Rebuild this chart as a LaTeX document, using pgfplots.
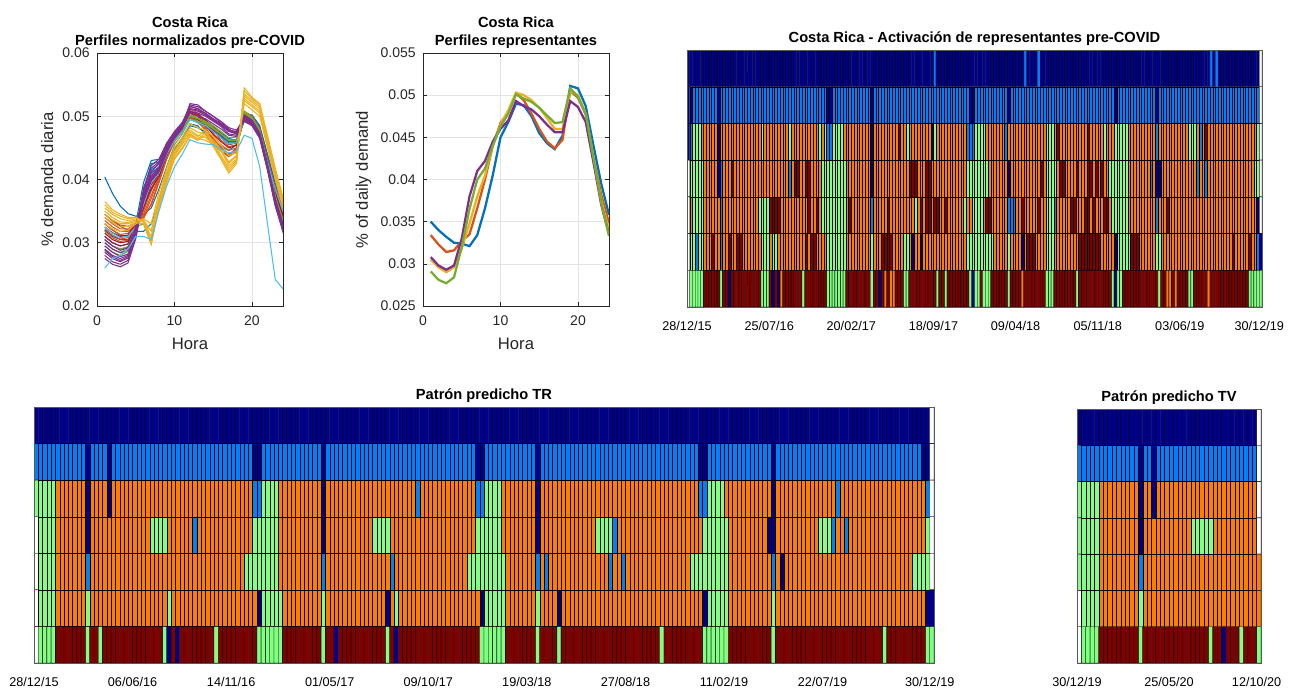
\documentclass[border=0pt]{standalone}
\usepackage{pgfplots}
\usepackage{pgfplotstable}
\pgfplotsset{compat=1.18}
\usepackage{fontspec}
\setmainfont{Liberation Sans}
\definecolor{mB}{rgb}{0,0.447,0.741}
\definecolor{mO}{rgb}{0.85,0.325,0.098}
\definecolor{mY}{rgb}{0.929,0.694,0.125}
\definecolor{mP}{rgb}{0.494,0.184,0.556}
\definecolor{mG}{rgb}{0.466,0.674,0.188}
\definecolor{mC}{rgb}{0.301,0.745,0.933}
\definecolor{mR}{rgb}{0.635,0.078,0.184}
\definecolor{axgray}{rgb}{0.15,0.15,0.15}
\pgfplotsset{colormap={wk}{rgb255=(255,255,255) rgb255=(0,0,143) rgb255=(0,128,255) rgb255=(128,255,128) rgb255=(255,128,0) rgb255=(128,0,0)}}
\pgfplotsset{
 lineax/.style={scale only axis, width=139.5pt, height=189.75pt, xmin=0, xmax=24,
  xtick={0,10,20}, xticklabels={0,10,20}, grid=major, grid style={gray!22, line width=0.4pt},
  scaled y ticks=false, scaled x ticks=false,
  axis line style={axgray, line width=0.4pt}, tick style={axgray, line width=0.4pt}, major tick length=3pt,
  tick label style={font=\fontsize{10.5}{12}\selectfont, text=axgray},
  xticklabel style={yshift=-4pt}, yticklabel style={xshift=-2pt},
  label style={font=\fontsize{12.5}{14}\selectfont, text=axgray},
  xlabel style={yshift=-2pt},
  title style={font=\bfseries\fontsize{11}{13}\selectfont, align=center, yshift=-6pt},
  xlabel=Hora},
 gridax/.style={scale only axis, enlargelimits=false, ymin=0, ymax=7, y dir=reverse, ytick=\empty,
  major tick length=0pt, axis line style={gray!70!black, line width=0.4pt},
  tick label style={font=\fontsize{9.5}{11}\selectfont, text=black}, xticklabel style={yshift=-7.5pt},
  title style={font=\bfseries\fontsize{11}{13}\selectfont, yshift=-6.5pt},
  colormap name=wk, point meta min=0, point meta max=5, axis on top},
 thinl/.style={mark=none, line width=0.8pt},
 thickl/.style={mark=none, line width=1.7pt}
}
% Activation grid: 7 rows x 210 weeks, row-major. 0 white,1 navy,2 blue,3 green,4 orange,5 dark red
\pgfplotstableread[row sep=\\]{c\\
1\\1\\1\\1\\1\\1\\1\\1\\1\\1\\
1\\1\\1\\1\\1\\1\\1\\1\\1\\1\\
1\\1\\1\\1\\1\\1\\1\\1\\1\\1\\
1\\1\\1\\1\\1\\1\\1\\1\\1\\1\\
1\\1\\1\\1\\1\\1\\1\\1\\1\\1\\
1\\1\\1\\1\\1\\1\\1\\1\\1\\1\\
1\\1\\1\\1\\1\\1\\1\\1\\1\\1\\
1\\1\\1\\1\\1\\1\\1\\1\\1\\1\\
1\\1\\1\\1\\1\\1\\1\\1\\1\\1\\
2\\1\\1\\1\\1\\1\\1\\1\\1\\1\\
1\\1\\1\\1\\1\\1\\1\\1\\1\\1\\
1\\1\\1\\1\\1\\1\\1\\1\\1\\1\\
1\\1\\1\\2\\1\\1\\1\\1\\2\\1\\
1\\1\\1\\1\\1\\1\\1\\1\\1\\1\\
1\\1\\1\\1\\1\\1\\1\\1\\1\\1\\
1\\1\\1\\1\\1\\1\\1\\1\\1\\1\\
1\\1\\1\\1\\1\\1\\1\\1\\1\\1\\
1\\1\\1\\1\\1\\1\\1\\1\\1\\1\\
1\\1\\1\\1\\1\\1\\1\\1\\1\\1\\
1\\2\\1\\2\\1\\1\\1\\1\\1\\1\\
1\\1\\1\\1\\1\\1\\1\\1\\1\\0\\
1\\1\\2\\2\\2\\2\\2\\2\\2\\2\\
2\\1\\2\\2\\2\\2\\2\\2\\2\\2\\
2\\2\\2\\2\\2\\2\\2\\2\\2\\2\\
2\\2\\2\\2\\2\\2\\2\\2\\2\\2\\
2\\2\\2\\2\\2\\2\\2\\2\\2\\2\\
2\\1\\1\\2\\2\\2\\2\\2\\2\\2\\
2\\2\\2\\2\\2\\2\\2\\1\\2\\2\\
2\\2\\2\\2\\2\\2\\2\\2\\2\\2\\
2\\2\\2\\2\\2\\2\\2\\2\\2\\2\\
2\\2\\2\\2\\2\\2\\2\\2\\2\\2\\
2\\2\\2\\1\\1\\2\\2\\2\\2\\2\\
2\\2\\2\\2\\2\\2\\2\\1\\2\\2\\
2\\2\\2\\2\\2\\2\\2\\2\\2\\2\\
2\\2\\2\\2\\2\\2\\2\\2\\2\\2\\
2\\2\\2\\2\\2\\2\\2\\2\\2\\2\\
2\\2\\2\\2\\2\\2\\1\\2\\2\\2\\
2\\2\\2\\2\\2\\2\\2\\2\\2\\2\\
2\\1\\2\\2\\2\\2\\2\\2\\2\\2\\
2\\2\\2\\2\\2\\2\\2\\2\\2\\2\\
2\\2\\2\\2\\2\\2\\2\\2\\2\\2\\
2\\2\\2\\2\\2\\2\\2\\2\\2\\0\\
1\\2\\3\\3\\3\\4\\4\\4\\4\\4\\
4\\1\\4\\4\\4\\4\\4\\4\\4\\4\\
4\\4\\4\\4\\4\\4\\4\\3\\4\\4\\
4\\4\\4\\4\\4\\4\\4\\3\\4\\4\\
4\\4\\4\\4\\4\\4\\4\\4\\3\\4\\
3\\2\\2\\3\\3\\3\\3\\4\\4\\4\\
4\\4\\4\\4\\4\\4\\4\\1\\4\\4\\
4\\4\\4\\4\\4\\4\\4\\5\\4\\4\\
3\\4\\4\\4\\4\\4\\4\\4\\4\\1\\
3\\4\\4\\4\\4\\4\\4\\4\\4\\4\\
4\\4\\2\\2\\2\\3\\3\\3\\3\\4\\
4\\4\\4\\4\\4\\4\\2\\4\\4\\4\\
4\\4\\4\\4\\4\\4\\4\\4\\4\\4\\
4\\3\\3\\3\\4\\5\\4\\4\\4\\4\\
4\\4\\4\\4\\4\\4\\5\\4\\4\\4\\
4\\4\\3\\4\\4\\4\\3\\3\\3\\3\\
3\\4\\4\\4\\4\\4\\4\\4\\4\\4\\
4\\2\\4\\4\\4\\4\\4\\4\\4\\4\\
4\\4\\4\\3\\3\\3\\4\\2\\4\\5\\
4\\4\\4\\4\\4\\4\\4\\4\\4\\4\\
4\\4\\4\\4\\4\\4\\4\\4\\3\\0\\
0\\3\\3\\3\\3\\3\\4\\4\\4\\4\\
4\\1\\2\\4\\4\\4\\5\\4\\4\\4\\
4\\4\\4\\4\\4\\4\\4\\4\\4\\4\\
4\\4\\4\\4\\4\\4\\4\\2\\4\\5\\
5\\4\\4\\5\\5\\4\\4\\4\\4\\3\\
3\\3\\3\\3\\3\\3\\3\\3\\4\\4\\
4\\4\\4\\4\\4\\4\\4\\1\\4\\4\\
4\\4\\4\\4\\4\\4\\4\\4\\4\\4\\
4\\5\\5\\5\\4\\4\\4\\5\\5\\4\\
4\\4\\4\\4\\4\\4\\4\\4\\4\\4\\
4\\4\\3\\3\\3\\3\\3\\3\\3\\3\\
4\\4\\4\\4\\4\\4\\4\\1\\4\\4\\
4\\4\\4\\4\\4\\4\\4\\4\\4\\5\\
4\\3\\3\\3\\3\\4\\5\\5\\4\\4\\
4\\4\\5\\4\\4\\4\\5\\5\\4\\5\\
4\\5\\4\\4\\3\\3\\3\\3\\3\\3\\
3\\4\\4\\4\\4\\4\\4\\4\\4\\2\\
4\\1\\1\\4\\4\\4\\4\\4\\4\\4\\
4\\4\\4\\4\\4\\4\\2\\4\\4\\2\\
4\\4\\4\\4\\4\\4\\4\\4\\4\\4\\
4\\4\\4\\4\\4\\4\\4\\3\\3\\0\\
0\\4\\3\\3\\3\\3\\4\\4\\4\\4\\
4\\4\\2\\4\\4\\4\\4\\4\\4\\4\\
4\\4\\4\\4\\4\\4\\3\\3\\3\\3\\
5\\5\\5\\5\\4\\4\\4\\4\\4\\4\\
4\\4\\4\\4\\5\\4\\4\\5\\4\\3\\
3\\3\\3\\3\\3\\3\\3\\3\\4\\5\\
4\\4\\4\\4\\4\\4\\4\\2\\4\\4\\
4\\4\\4\\5\\4\\4\\4\\4\\4\\4\\
4\\4\\4\\3\\4\\5\\4\\5\\5\\4\\
5\\5\\4\\4\\5\\4\\4\\4\\4\\4\\
4\\3\\4\\4\\3\\3\\3\\3\\4\\5\\
5\\4\\4\\4\\4\\4\\4\\2\\2\\2\\
4\\4\\5\\4\\4\\4\\4\\4\\5\\4\\
4\\3\\3\\3\\2\\4\\4\\4\\4\\4\\
5\\5\\4\\4\\4\\5\\5\\4\\5\\4\\
4\\4\\5\\5\\4\\3\\3\\3\\3\\3\\
3\\4\\4\\4\\4\\4\\4\\4\\4\\4\\
4\\2\\4\\4\\4\\5\\4\\4\\4\\4\\
4\\4\\4\\4\\4\\4\\4\\4\\4\\4\\
4\\4\\4\\4\\4\\4\\4\\4\\4\\4\\
4\\4\\4\\4\\4\\4\\4\\4\\1\\0\\
0\\3\\3\\2\\3\\3\\4\\4\\4\\5\\
4\\4\\2\\4\\4\\5\\4\\4\\5\\5\\
4\\4\\4\\4\\4\\4\\4\\3\\3\\3\\
4\\3\\3\\4\\4\\4\\4\\4\\4\\4\\
4\\4\\4\\5\\4\\5\\5\\4\\4\\4\\
4\\3\\3\\3\\3\\3\\3\\3\\4\\4\\
4\\4\\4\\4\\4\\4\\4\\3\\4\\4\\
4\\5\\5\\5\\5\\4\\4\\4\\4\\3\\
3\\4\\1\\4\\4\\1\\4\\4\\4\\4\\
4\\4\\4\\4\\4\\4\\4\\4\\4\\4\\
4\\4\\3\\3\\3\\3\\3\\3\\3\\3\\
3\\3\\4\\4\\4\\4\\4\\3\\4\\4\\
4\\4\\1\\4\\5\\5\\5\\4\\4\\4\\
4\\3\\3\\3\\4\\4\\4\\4\\4\\4\\
4\\4\\4\\5\\5\\5\\5\\5\\5\\5\\
5\\4\\4\\4\\4\\4\\1\\3\\3\\3\\
3\\3\\5\\5\\5\\4\\4\\4\\4\\4\\
4\\3\\3\\4\\4\\4\\4\\4\\4\\4\\
4\\4\\4\\4\\4\\4\\4\\4\\4\\4\\
4\\4\\4\\4\\4\\4\\4\\4\\4\\5\\
4\\4\\4\\4\\4\\5\\4\\4\\2\\1\\
0\\3\\3\\3\\3\\3\\5\\5\\5\\5\\
5\\5\\3\\5\\5\\1\\5\\5\\5\\5\\
5\\5\\5\\5\\5\\5\\5\\3\\3\\3\\
5\\1\\5\\1\\4\\5\\5\\5\\5\\5\\
5\\5\\3\\5\\5\\5\\5\\5\\5\\5\\
5\\3\\3\\3\\3\\3\\3\\3\\5\\5\\
5\\5\\5\\5\\5\\5\\5\\3\\5\\5\\
1\\5\\4\\5\\4\\4\\5\\5\\5\\3\\
3\\5\\5\\5\\5\\5\\5\\5\\5\\5\\
5\\3\\5\\5\\3\\5\\5\\5\\5\\5\\
5\\5\\5\\3\\1\\3\\3\\5\\3\\3\\
3\\5\\5\\5\\5\\5\\5\\3\\5\\5\\
5\\5\\4\\5\\5\\5\\5\\5\\5\\5\\
5\\3\\3\\3\\5\\5\\5\\5\\5\\5\\
5\\5\\3\\5\\5\\5\\5\\5\\5\\5\\
5\\5\\5\\5\\5\\3\\1\\3\\3\\5\\
5\\5\\5\\5\\5\\5\\5\\5\\5\\5\\
5\\5\\3\\5\\5\\4\\4\\5\\4\\5\\
5\\5\\5\\3\\3\\5\\5\\5\\5\\5\\
4\\5\\5\\5\\5\\5\\5\\5\\5\\5\\
5\\5\\5\\5\\5\\3\\3\\3\\3\\3\\
}\gridA
% Predicted TR grid: 7 rows x 210 weeks
\pgfplotstableread[row sep=\\]{c\\
1\\1\\1\\1\\1\\1\\1\\1\\1\\1\\
1\\1\\1\\1\\1\\1\\1\\1\\1\\1\\
1\\1\\1\\1\\1\\1\\1\\1\\1\\1\\
1\\1\\1\\1\\1\\1\\1\\1\\1\\1\\
1\\1\\1\\1\\1\\1\\1\\1\\1\\1\\
1\\1\\1\\1\\1\\1\\1\\1\\1\\1\\
1\\1\\1\\1\\1\\1\\1\\1\\1\\1\\
1\\1\\1\\1\\1\\1\\1\\1\\1\\1\\
1\\1\\1\\1\\1\\1\\1\\1\\1\\1\\
1\\1\\1\\1\\1\\1\\1\\1\\1\\1\\
1\\1\\1\\1\\1\\1\\1\\1\\1\\1\\
1\\1\\1\\1\\1\\1\\1\\1\\1\\1\\
1\\1\\1\\1\\1\\1\\1\\1\\1\\1\\
1\\1\\1\\1\\1\\1\\1\\1\\1\\1\\
1\\1\\1\\1\\1\\1\\1\\1\\1\\1\\
1\\1\\1\\1\\1\\1\\1\\1\\1\\1\\
1\\1\\1\\1\\1\\1\\1\\1\\1\\1\\
1\\1\\1\\1\\1\\1\\1\\1\\1\\1\\
1\\1\\1\\1\\1\\1\\1\\1\\1\\1\\
1\\1\\1\\1\\1\\1\\1\\1\\1\\1\\
1\\1\\1\\1\\1\\1\\1\\1\\1\\0\\
2\\2\\2\\2\\2\\2\\2\\2\\2\\2\\
2\\2\\1\\2\\2\\2\\2\\1\\2\\2\\
2\\2\\2\\2\\2\\2\\2\\2\\2\\2\\
2\\2\\2\\2\\2\\2\\2\\2\\2\\2\\
2\\2\\2\\2\\2\\2\\2\\2\\2\\2\\
2\\1\\1\\2\\2\\2\\2\\2\\2\\2\\
2\\2\\2\\2\\2\\2\\2\\1\\2\\2\\
2\\2\\2\\2\\2\\2\\2\\2\\2\\2\\
2\\2\\2\\2\\2\\2\\2\\2\\2\\2\\
2\\2\\2\\2\\2\\2\\2\\2\\2\\2\\
2\\2\\2\\1\\1\\2\\2\\2\\2\\2\\
2\\2\\2\\2\\2\\2\\2\\1\\2\\2\\
2\\2\\2\\2\\2\\2\\2\\2\\2\\2\\
2\\2\\2\\2\\2\\2\\2\\2\\2\\2\\
2\\2\\2\\2\\2\\2\\2\\2\\2\\2\\
2\\2\\2\\2\\2\\1\\1\\2\\2\\2\\
2\\2\\2\\2\\2\\2\\2\\2\\2\\2\\
2\\2\\1\\2\\2\\2\\2\\2\\2\\2\\
2\\2\\2\\2\\2\\2\\2\\2\\2\\2\\
2\\2\\2\\2\\2\\2\\2\\2\\2\\2\\
2\\2\\2\\2\\2\\2\\2\\1\\1\\0\\
3\\3\\3\\3\\3\\4\\4\\4\\4\\4\\
4\\4\\1\\4\\4\\4\\4\\1\\4\\4\\
4\\4\\4\\4\\4\\4\\4\\4\\4\\4\\
4\\4\\4\\4\\4\\4\\4\\4\\4\\4\\
4\\4\\4\\4\\4\\4\\4\\4\\4\\4\\
4\\2\\2\\3\\3\\3\\3\\4\\4\\4\\
4\\4\\4\\4\\4\\4\\4\\1\\4\\4\\
4\\4\\4\\4\\4\\4\\4\\4\\4\\4\\
4\\4\\4\\4\\4\\4\\4\\4\\4\\2\\
4\\4\\4\\4\\4\\4\\4\\4\\4\\4\\
4\\4\\4\\2\\2\\3\\3\\3\\3\\4\\
4\\4\\4\\4\\4\\4\\4\\1\\4\\4\\
4\\4\\4\\4\\4\\4\\4\\4\\4\\4\\
4\\4\\4\\4\\4\\4\\4\\4\\4\\4\\
4\\4\\4\\4\\4\\4\\4\\4\\4\\4\\
4\\4\\4\\4\\4\\2\\2\\3\\3\\3\\
3\\4\\4\\4\\4\\4\\4\\4\\4\\4\\
4\\4\\1\\4\\4\\4\\4\\4\\4\\4\\
4\\4\\4\\4\\4\\4\\4\\2\\4\\4\\
4\\4\\4\\4\\4\\4\\4\\4\\4\\4\\
4\\4\\4\\4\\4\\4\\4\\4\\2\\0\\
0\\3\\3\\3\\3\\4\\4\\4\\4\\4\\
4\\4\\1\\4\\4\\4\\4\\4\\4\\4\\
4\\4\\4\\4\\4\\4\\4\\3\\3\\3\\
3\\4\\4\\4\\4\\4\\4\\2\\4\\4\\
4\\4\\4\\4\\4\\4\\4\\4\\4\\4\\
4\\3\\3\\3\\3\\3\\3\\4\\4\\4\\
4\\4\\4\\4\\4\\4\\4\\1\\4\\4\\
4\\4\\4\\4\\4\\4\\4\\4\\4\\3\\
3\\3\\3\\4\\4\\4\\4\\4\\4\\4\\
4\\4\\4\\4\\4\\4\\4\\4\\4\\4\\
4\\4\\4\\3\\3\\3\\3\\3\\3\\4\\
4\\4\\4\\4\\4\\4\\4\\1\\4\\4\\
4\\4\\4\\4\\4\\4\\4\\4\\4\\4\\
4\\3\\3\\3\\3\\2\\4\\4\\4\\4\\
4\\4\\4\\4\\4\\4\\4\\4\\4\\4\\
4\\4\\4\\4\\4\\4\\3\\3\\3\\3\\
3\\3\\4\\4\\4\\4\\4\\4\\4\\4\\
4\\1\\1\\4\\4\\4\\4\\4\\4\\4\\
4\\4\\4\\3\\3\\3\\2\\4\\4\\2\\
4\\4\\4\\4\\4\\4\\4\\4\\4\\4\\
4\\4\\4\\4\\4\\4\\4\\4\\3\\0\\
0\\3\\3\\3\\3\\4\\4\\4\\4\\4\\
4\\4\\2\\4\\4\\4\\4\\4\\4\\4\\
4\\4\\4\\4\\4\\4\\4\\4\\4\\4\\
4\\4\\4\\4\\4\\4\\4\\4\\4\\4\\
4\\4\\4\\4\\4\\4\\4\\4\\4\\3\\
3\\3\\3\\3\\3\\3\\3\\4\\4\\4\\
4\\4\\4\\4\\4\\4\\4\\2\\4\\4\\
4\\4\\4\\4\\4\\4\\4\\4\\4\\4\\
4\\4\\4\\2\\4\\4\\4\\4\\4\\4\\
4\\4\\4\\4\\4\\4\\4\\4\\4\\4\\
4\\3\\3\\3\\3\\3\\3\\3\\3\\3\\
4\\4\\4\\4\\4\\4\\4\\2\\4\\2\\
4\\4\\4\\4\\4\\4\\4\\4\\4\\4\\
4\\4\\4\\4\\2\\4\\4\\2\\4\\4\\
4\\4\\4\\4\\4\\4\\4\\4\\4\\4\\
4\\4\\4\\3\\3\\3\\3\\3\\3\\3\\
3\\3\\4\\4\\4\\4\\4\\4\\4\\4\\
4\\4\\2\\4\\1\\4\\4\\4\\4\\4\\
4\\4\\4\\4\\4\\4\\4\\4\\4\\4\\
4\\4\\4\\4\\4\\4\\4\\4\\4\\4\\
4\\4\\4\\4\\4\\3\\3\\3\\3\\0\\
0\\3\\3\\3\\3\\4\\4\\4\\4\\4\\
4\\4\\3\\4\\4\\4\\4\\4\\4\\4\\
4\\4\\4\\4\\4\\4\\4\\4\\4\\4\\
4\\3\\4\\4\\4\\4\\4\\4\\4\\4\\
4\\4\\4\\4\\4\\4\\4\\4\\4\\4\\
4\\4\\1\\3\\3\\3\\3\\3\\4\\4\\
4\\4\\4\\4\\4\\4\\4\\3\\4\\4\\
4\\4\\4\\4\\4\\4\\4\\4\\4\\4\\
4\\4\\1\\4\\3\\4\\4\\4\\4\\4\\
4\\4\\4\\4\\4\\4\\4\\4\\4\\4\\
4\\4\\4\\4\\1\\3\\3\\3\\3\\3\\
4\\4\\4\\4\\4\\4\\4\\3\\4\\4\\
4\\4\\1\\4\\4\\4\\4\\4\\4\\4\\
4\\4\\4\\4\\4\\4\\4\\4\\4\\4\\
4\\4\\4\\4\\4\\4\\4\\4\\4\\4\\
4\\4\\4\\4\\4\\4\\1\\3\\3\\3\\
3\\3\\4\\4\\4\\4\\4\\4\\4\\4\\
4\\4\\3\\4\\4\\4\\4\\4\\4\\4\\
4\\4\\4\\4\\4\\4\\4\\4\\4\\4\\
4\\4\\4\\4\\4\\4\\4\\4\\4\\4\\
4\\4\\4\\4\\4\\4\\4\\4\\1\\1\\
0\\3\\3\\3\\3\\5\\5\\5\\5\\5\\
5\\5\\3\\5\\5\\3\\5\\5\\5\\5\\
5\\5\\5\\5\\5\\5\\5\\5\\5\\5\\
3\\1\\5\\1\\5\\5\\5\\5\\5\\5\\
5\\5\\3\\5\\5\\5\\5\\5\\5\\5\\
5\\5\\3\\3\\3\\3\\3\\3\\5\\5\\
5\\5\\5\\5\\5\\5\\5\\3\\5\\5\\
1\\5\\5\\5\\5\\5\\5\\5\\5\\5\\
5\\5\\3\\5\\1\\5\\5\\5\\5\\5\\
5\\5\\5\\5\\5\\5\\5\\5\\5\\5\\
5\\5\\5\\5\\3\\3\\3\\3\\3\\3\\
5\\5\\5\\5\\5\\5\\5\\3\\5\\5\\
5\\5\\3\\5\\5\\5\\5\\5\\5\\5\\
5\\5\\5\\5\\5\\5\\5\\5\\5\\5\\
5\\5\\5\\5\\5\\5\\3\\5\\5\\5\\
5\\5\\5\\5\\5\\5\\3\\3\\3\\3\\
3\\3\\5\\5\\5\\5\\5\\5\\5\\5\\
5\\5\\3\\5\\5\\5\\5\\5\\5\\5\\
5\\5\\5\\5\\5\\5\\5\\5\\5\\5\\
5\\5\\5\\5\\5\\5\\5\\5\\3\\5\\
5\\5\\5\\5\\5\\5\\5\\5\\3\\3\\
}\gridTR
% Predicted TV grid: 7 rows x 42 weeks
\pgfplotstableread[row sep=\\]{c\\
1\\1\\1\\1\\1\\1\\1\\1\\1\\1\\
1\\1\\1\\1\\1\\1\\1\\1\\1\\1\\
1\\1\\1\\1\\1\\1\\1\\1\\1\\1\\
1\\1\\1\\1\\1\\1\\1\\1\\1\\1\\
1\\0\\
2\\2\\2\\2\\2\\2\\2\\2\\2\\2\\
2\\2\\2\\2\\1\\2\\2\\1\\2\\2\\
2\\2\\2\\2\\2\\2\\2\\2\\2\\2\\
2\\2\\2\\2\\2\\2\\2\\2\\2\\2\\
2\\0\\
3\\3\\3\\3\\3\\4\\4\\4\\4\\4\\
4\\4\\4\\4\\1\\4\\4\\1\\4\\4\\
4\\4\\4\\4\\4\\4\\4\\4\\4\\4\\
4\\4\\4\\4\\4\\4\\4\\4\\4\\4\\
4\\0\\
3\\3\\3\\3\\3\\4\\4\\4\\4\\4\\
4\\4\\4\\4\\1\\4\\4\\4\\4\\4\\
4\\4\\4\\4\\4\\4\\3\\3\\3\\3\\
3\\4\\4\\4\\4\\4\\4\\4\\4\\4\\
4\\0\\
3\\3\\3\\3\\3\\4\\4\\4\\4\\4\\
4\\4\\4\\4\\2\\4\\4\\4\\4\\4\\
4\\4\\4\\4\\4\\4\\4\\4\\4\\4\\
4\\4\\4\\4\\4\\4\\4\\4\\4\\4\\
4\\4\\
0\\3\\3\\3\\3\\4\\4\\4\\4\\4\\
4\\4\\4\\4\\3\\4\\4\\4\\4\\4\\
4\\4\\4\\4\\4\\4\\4\\4\\4\\4\\
4\\4\\4\\4\\4\\4\\4\\4\\4\\4\\
4\\4\\
0\\3\\3\\3\\3\\5\\5\\5\\5\\5\\
5\\5\\5\\5\\3\\5\\5\\5\\5\\5\\
5\\5\\5\\5\\5\\5\\5\\5\\5\\5\\
3\\5\\5\\1\\5\\5\\5\\3\\5\\5\\
5\\3\\
}\gridTV
\begin{document}
\begin{tikzpicture}
\useasboundingbox (0,0) rectangle (975.75pt,517.5pt);
% ---------- Panel 1 ----------
\begin{axis}[lineax, at={(72.75pt,288pt)}, anchor=south west, ymin=0.02, ymax=0.06,
 ytick={0.02,0.03,0.04,0.05,0.06}, yticklabels={0.02,0.03,0.04,0.05,0.06},
 ylabel={\% demanda diaria}, title={Costa Rica\\Perfiles normalizados pre-COVID}]
\addplot[thinl, mB] coordinates {(1,.0404)(2,.0378)(3,.0358)(4,.0346)(5,.0342)(6,.0345)(7,.0355)(8,.0385)(9,.0420)(10,.0450)(11,.0465)(12,.0485)(13,.0482)(14,.0475)(15,.0462)(16,.0452)(17,.0446)(18,.0455)(19,.0505)(20,.0502)(21,.0485)(22,.0440)(23,.0395)(24,.0360)};
\addplot[thinl, mB] coordinates {(1,.0310)(2,.0300)(3,.0295)(4,.0298)(5,.0330)(6,.0395)(7,.0430)(8,.0432)(9,.0455)(10,.0470)(11,.0480)(12,.0498)(13,.0495)(14,.0490)(15,.0482)(16,.0474)(17,.0465)(18,.0462)(19,.0495)(20,.0490)(21,.0472)(22,.0428)(23,.0382)(24,.0345)};
\addplot[thinl, mB] coordinates {(1,.0320)(2,.0310)(3,.0305)(4,.0305)(5,.0322)(6,.0380)(7,.0425)(8,.0428)(9,.0450)(10,.0468)(11,.0478)(12,.0495)(13,.0490)(14,.0484)(15,.0475)(16,.0468)(17,.0458)(18,.0458)(19,.0492)(20,.0486)(21,.0468)(22,.0425)(23,.0385)(24,.0350)};
\addplot[thinl, mB] coordinates {(1,.0345)(2,.0335)(3,.0326)(4,.0320)(5,.0318)(6,.0318)(7,.0330)(8,.0365)(9,.0405)(10,.0448)(11,.0466)(12,.0488)(13,.0485)(14,.0472)(15,.0455)(16,.0445)(17,.0438)(18,.0450)(19,.0505)(20,.0500)(21,.0482)(22,.0438)(23,.0392)(24,.0355)};
\addplot[thinl, mB] coordinates {(1,.0305)(2,.0295)(3,.0290)(4,.0293)(5,.0325)(6,.0372)(7,.0410)(8,.0420)(9,.0448)(10,.0466)(11,.0480)(12,.0500)(13,.0496)(14,.0488)(15,.0480)(16,.0470)(17,.0462)(18,.0462)(19,.0498)(20,.0490)(21,.0470)(22,.0425)(23,.0378)(24,.0338)};
\addplot[thinl, mB] coordinates {(1,.0330)(2,.0320)(3,.0312)(4,.0310)(5,.0320)(6,.0365)(7,.0415)(8,.0425)(9,.0450)(10,.0468)(11,.0478)(12,.0496)(13,.0492)(14,.0486)(15,.0478)(16,.0470)(17,.0460)(18,.0460)(19,.0496)(20,.0490)(21,.0470)(22,.0426)(23,.0380)(24,.0345)};
\addplot[thinl, mO] coordinates {(1,.0335)(2,.0325)(3,.0318)(4,.0318)(5,.0328)(6,.0340)(7,.0370)(8,.0402)(9,.0440)(10,.0466)(11,.0480)(12,.0505)(13,.0496)(14,.0482)(15,.0465)(16,.0450)(17,.0440)(18,.0448)(19,.0502)(20,.0495)(21,.0476)(22,.0428)(23,.0384)(24,.0348)};
\addplot[thinl, mO] coordinates {(1,.0330)(2,.0320)(3,.0313)(4,.0315)(5,.0326)(6,.0345)(7,.0375)(8,.0405)(9,.0442)(10,.0468)(11,.0482)(12,.0510)(13,.0500)(14,.0488)(15,.0470)(16,.0455)(17,.0446)(18,.0450)(19,.0498)(20,.0492)(21,.0474)(22,.0426)(23,.0380)(24,.0345)};
\addplot[thinl, mO] coordinates {(1,.0340)(2,.0330)(3,.0322)(4,.0322)(5,.0330)(6,.0338)(7,.0362)(8,.0398)(9,.0436)(10,.0462)(11,.0478)(12,.0500)(13,.0492)(14,.0478)(15,.0460)(16,.0446)(17,.0436)(18,.0444)(19,.0508)(20,.0500)(21,.0480)(22,.0432)(23,.0388)(24,.0352)};
\addplot[thinl, mO] coordinates {(1,.0322)(2,.0312)(3,.0306)(4,.0308)(5,.0324)(6,.0350)(7,.0382)(8,.0410)(9,.0445)(10,.0470)(11,.0484)(12,.0512)(13,.0505)(14,.0494)(15,.0478)(16,.0462)(17,.0452)(18,.0455)(19,.0495)(20,.0488)(21,.0470)(22,.0422)(23,.0376)(24,.0340)};
\addplot[thinl, mO] coordinates {(1,.0345)(2,.0335)(3,.0328)(4,.0326)(5,.0332)(6,.0342)(7,.0360)(8,.0395)(9,.0432)(10,.0460)(11,.0476)(12,.0498)(13,.0490)(14,.0480)(15,.0464)(16,.0450)(17,.0440)(18,.0446)(19,.0505)(20,.0498)(21,.0478)(22,.0430)(23,.0386)(24,.0350)};
\addplot[thinl, mO] coordinates {(1,.0318)(2,.0308)(3,.0302)(4,.0304)(5,.0322)(6,.0352)(7,.0386)(8,.0412)(9,.0446)(10,.0470)(11,.0484)(12,.0508)(13,.0502)(14,.0492)(15,.0480)(16,.0466)(17,.0456)(18,.0458)(19,.0500)(20,.0492)(21,.0474)(22,.0426)(23,.0378)(24,.0342)};
\addplot[thinl, mR] coordinates {(1,.0315)(2,.0305)(3,.0300)(4,.0302)(5,.0325)(6,.0355)(7,.0392)(8,.0410)(9,.0442)(10,.0466)(11,.0480)(12,.0506)(13,.0500)(14,.0490)(15,.0478)(16,.0466)(17,.0455)(18,.0458)(19,.0500)(20,.0492)(21,.0474)(22,.0428)(23,.0380)(24,.0342)};
\addplot[thinl, mR] coordinates {(1,.0325)(2,.0316)(3,.0310)(4,.0312)(5,.0330)(6,.0358)(7,.0385)(8,.0405)(9,.0438)(10,.0464)(11,.0478)(12,.0500)(13,.0495)(14,.0485)(15,.0472)(16,.0460)(17,.0450)(18,.0454)(19,.0502)(20,.0495)(21,.0476)(22,.0430)(23,.0384)(24,.0340)};
\addplot[thinl, mR] coordinates {(1,.0310)(2,.0300)(3,.0295)(4,.0298)(5,.0322)(6,.0362)(7,.0398)(8,.0414)(9,.0446)(10,.0468)(11,.0482)(12,.0508)(13,.0503)(14,.0494)(15,.0484)(16,.0472)(17,.0462)(18,.0463)(19,.0502)(20,.0494)(21,.0474)(22,.0426)(23,.0376)(24,.0336)};
\addplot[thinl, mG] coordinates {(1,.0300)(2,.0290)(3,.0285)(4,.0290)(5,.0325)(6,.0330)(7,.0298)(8,.0360)(9,.0420)(10,.0455)(11,.0472)(12,.0495)(13,.0492)(14,.0488)(15,.0480)(16,.0472)(17,.0462)(18,.0462)(19,.0505)(20,.0496)(21,.0476)(22,.0424)(23,.0370)(24,.0315)};
\addplot[thinl, mG] coordinates {(1,.0295)(2,.0285)(3,.0280)(4,.0286)(5,.0322)(6,.0366)(7,.0402)(8,.0416)(9,.0444)(10,.0464)(11,.0479)(12,.0502)(13,.0497)(14,.0492)(15,.0485)(16,.0476)(17,.0466)(18,.0467)(19,.0508)(20,.0498)(21,.0478)(22,.0426)(23,.0373)(24,.0334)};
\addplot[thinl, mG] coordinates {(1,.0305)(2,.0295)(3,.0290)(4,.0294)(5,.0326)(6,.0368)(7,.0400)(8,.0414)(9,.0442)(10,.0464)(11,.0478)(12,.0500)(13,.0496)(14,.0490)(15,.0482)(16,.0472)(17,.0462)(18,.0463)(19,.0504)(20,.0496)(21,.0476)(22,.0426)(23,.0374)(24,.0336)};
\addplot[thinl, mC] coordinates {(1,.0325)(2,.0315)(3,.0308)(4,.0310)(5,.0325)(6,.0360)(7,.0395)(8,.0410)(9,.0440)(10,.0462)(11,.0475)(12,.0495)(13,.0490)(14,.0485)(15,.0476)(16,.0466)(17,.0456)(18,.0458)(19,.0495)(20,.0488)(21,.0470)(22,.0428)(23,.0385)(24,.0350)};
\addplot[thinl, mP] coordinates {(1,.0280)(2,.0270)(3,.0266)(4,.0272)(5,.0310)(6,.0372)(7,.0405)(8,.0418)(9,.0448)(10,.0472)(11,.0488)(12,.0515)(13,.0512)(14,.0505)(15,.0496)(16,.0488)(17,.0478)(18,.0476)(19,.0498)(20,.0490)(21,.0470)(22,.0420)(23,.0365)(24,.0325)};
\addplot[thinl, mP] coordinates {(1,.0290)(2,.0280)(3,.0275)(4,.0280)(5,.0318)(6,.0378)(7,.0412)(8,.0425)(9,.0452)(10,.0470)(11,.0485)(12,.0520)(13,.0518)(14,.0508)(15,.0500)(16,.0490)(17,.0480)(18,.0472)(19,.0492)(20,.0485)(21,.0465)(22,.0415)(23,.0360)(24,.0318)};
\addplot[thinl, mP] coordinates {(1,.0300)(2,.0290)(3,.0284)(4,.0288)(5,.0322)(6,.0370)(7,.0400)(8,.0415)(9,.0445)(10,.0465)(11,.0480)(12,.0508)(13,.0505)(14,.0500)(15,.0492)(16,.0484)(17,.0472)(18,.0470)(19,.0500)(20,.0492)(21,.0472)(22,.0422)(23,.0368)(24,.0328)};
\addplot[thinl, mP] coordinates {(1,.0285)(2,.0275)(3,.0270)(4,.0276)(5,.0315)(6,.0382)(7,.0418)(8,.0428)(9,.0455)(10,.0474)(11,.0490)(12,.0512)(13,.0510)(14,.0502)(15,.0494)(16,.0486)(17,.0476)(18,.0474)(19,.0495)(20,.0488)(21,.0468)(22,.0418)(23,.0362)(24,.0322)};
\addplot[thinl, mP] coordinates {(1,.0295)(2,.0285)(3,.0278)(4,.0282)(5,.0316)(6,.0365)(7,.0398)(8,.0412)(9,.0442)(10,.0468)(11,.0484)(12,.0505)(13,.0500)(14,.0496)(15,.0488)(16,.0480)(17,.0470)(18,.0468)(19,.0502)(20,.0494)(21,.0474)(22,.0425)(23,.0370)(24,.0330)};
\addplot[thinl, mP] coordinates {(1,.0275)(2,.0266)(3,.0262)(4,.0268)(5,.0306)(6,.0368)(7,.0402)(8,.0416)(9,.0446)(10,.0470)(11,.0487)(12,.0518)(13,.0515)(14,.0508)(15,.0500)(16,.0492)(17,.0482)(18,.0478)(19,.0496)(20,.0488)(21,.0466)(22,.0416)(23,.0360)(24,.0320)};
\addplot[thinl, mP] coordinates {(1,.0305)(2,.0295)(3,.0288)(4,.0292)(5,.0326)(6,.0375)(7,.0406)(8,.0420)(9,.0450)(10,.0470)(11,.0486)(12,.0512)(13,.0508)(14,.0502)(15,.0494)(16,.0486)(17,.0476)(18,.0472)(19,.0498)(20,.0490)(21,.0470)(22,.0420)(23,.0366)(24,.0326)};
\addplot[thinl, mP] coordinates {(1,.0288)(2,.0278)(3,.0272)(4,.0278)(5,.0318)(6,.0386)(7,.0422)(8,.0432)(9,.0458)(10,.0476)(11,.0490)(12,.0516)(13,.0512)(14,.0504)(15,.0496)(16,.0488)(17,.0478)(18,.0475)(19,.0494)(20,.0486)(21,.0466)(22,.0416)(23,.0358)(24,.0318)};
\addplot[thinl, mY] coordinates {(1,.0355)(2,.0345)(3,.0338)(4,.0335)(5,.0338)(6,.0335)(7,.0305)(8,.0360)(9,.0400)(10,.0438)(11,.0455)(12,.0475)(13,.0468)(14,.0478)(15,.0458)(16,.0438)(17,.0418)(18,.0430)(19,.0535)(20,.0525)(21,.0515)(22,.0462)(23,.0412)(24,.0368)};
\addplot[thinl, mY] coordinates {(1,.0340)(2,.0332)(3,.0325)(4,.0326)(5,.0332)(6,.0330)(7,.0320)(8,.0372)(9,.0412)(10,.0445)(11,.0462)(12,.0482)(13,.0475)(14,.0472)(15,.0462)(16,.0448)(17,.0428)(18,.0438)(19,.0528)(20,.0518)(21,.0508)(22,.0455)(23,.0405)(24,.0360)};
\addplot[thinl, mY] coordinates {(1,.0365)(2,.0352)(3,.0345)(4,.0340)(5,.0340)(6,.0332)(7,.0298)(8,.0355)(9,.0395)(10,.0432)(11,.0448)(12,.0468)(13,.0462)(14,.0470)(15,.0452)(16,.0432)(17,.0410)(18,.0425)(19,.0545)(20,.0530)(21,.0520)(22,.0470)(23,.0418)(24,.0372)};
\addplot[thinl, mY] coordinates {(1,.0330)(2,.0322)(3,.0318)(4,.0320)(5,.0330)(6,.0338)(7,.0330)(8,.0380)(9,.0418)(10,.0450)(11,.0466)(12,.0488)(13,.0482)(14,.0478)(15,.0468)(16,.0455)(17,.0438)(18,.0442)(19,.0520)(20,.0510)(21,.0500)(22,.0450)(23,.0400)(24,.0355)};
\addplot[thinl, mY] coordinates {(1,.0350)(2,.0340)(3,.0333)(4,.0332)(5,.0336)(6,.0334)(7,.0310)(8,.0366)(9,.0405)(10,.0440)(11,.0458)(12,.0472)(13,.0465)(14,.0462)(15,.0455)(16,.0445)(17,.0422)(18,.0432)(19,.0532)(20,.0522)(21,.0512)(22,.0458)(23,.0408)(24,.0362)};
\addplot[thinl, mY] coordinates {(1,.0345)(2,.0336)(3,.0330)(4,.0330)(5,.0334)(6,.0336)(7,.0318)(8,.0370)(9,.0410)(10,.0443)(11,.0460)(12,.0478)(13,.0470)(14,.0466)(15,.0458)(16,.0446)(17,.0426)(18,.0436)(19,.0525)(20,.0515)(21,.0505)(22,.0452)(23,.0402)(24,.0358)};
\addplot[thinl, mY] coordinates {(1,.0360)(2,.0348)(3,.0342)(4,.0338)(5,.0340)(6,.0334)(7,.0302)(8,.0358)(9,.0398)(10,.0435)(11,.0450)(12,.0470)(13,.0464)(14,.0474)(15,.0455)(16,.0435)(17,.0414)(18,.0428)(19,.0540)(20,.0528)(21,.0518)(22,.0466)(23,.0415)(24,.0370)};
\addplot[thinl, mC] coordinates {(1,.0260)(2,.0275)(3,.0280)(4,.0290)(5,.0310)(6,.0310)(7,.0305)(8,.0350)(9,.0390)(10,.0420)(11,.0440)(12,.0463)(13,.0458)(14,.0456)(15,.0455)(16,.0448)(17,.0442)(18,.0445)(19,.0470)(20,.0465)(21,.0420)(22,.0330)(23,.0242)(24,.0227)};
\end{axis}
% ---------- Panel 2 ----------
\begin{axis}[lineax, at={(317.25pt,288pt)}, anchor=south west, ymin=0.025, ymax=0.055,
 ytick={0.025,0.03,0.035,0.04,0.045,0.05,0.055}, yticklabels={0.025,0.03,0.035,0.04,0.045,0.05,0.055},
 ylabel={\% of daily demand}, title={Costa Rica\\Perfiles representantes}]
\addplot[thickl, mB] coordinates {(1,.0350)(2,.0340)(3,.0332)(4,.0325)(5,.0324)(6,.0321)(7,.0334)(8,.0366)(9,.0405)(10,.0450)(11,.0468)(12,.0490)(13,.0488)(14,.0475)(15,.0455)(16,.0443)(17,.0436)(18,.0452)(19,.0511)(20,.0508)(21,.0487)(22,.0440)(23,.0395)(24,.0358)};
\addplot[thickl, mO] coordinates {(1,.0334)(2,.0323)(3,.0314)(4,.0316)(5,.0327)(6,.0335)(7,.0366)(8,.0400)(9,.0440)(10,.0467)(11,.0480)(12,.0502)(13,.0494)(14,.0478)(15,.0460)(16,.0445)(17,.0437)(18,.0447)(19,.0505)(20,.0497)(21,.0477)(22,.0426)(23,.0382)(24,.0348)};
\addplot[thickl, mY] coordinates {(1,.0305)(2,.0296)(3,.0290)(4,.0296)(5,.0318)(6,.0348)(7,.0380)(8,.0405)(9,.0440)(10,.0465)(11,.0482)(12,.0503)(13,.0500)(14,.0494)(15,.0485)(16,.0473)(17,.0460)(18,.0460)(19,.0505)(20,.0500)(21,.0478)(22,.0425)(23,.0375)(24,.0340)};
\addplot[thickl, mP] coordinates {(1,.0308)(2,.0298)(3,.0293)(4,.0298)(5,.0330)(6,.0380)(7,.0410)(8,.0422)(9,.0445)(10,.0460)(11,.0470)(12,.0493)(13,.0487)(14,.0483)(15,.0475)(16,.0465)(17,.0456)(18,.0456)(19,.0493)(20,.0486)(21,.0468)(22,.0420)(23,.0370)(24,.0335)};
\addplot[thickl, mG] coordinates {(1,.0291)(2,.0281)(3,.0277)(4,.0284)(5,.0320)(6,.0365)(7,.0400)(8,.0413)(9,.0440)(10,.0463)(11,.0478)(12,.0501)(13,.0496)(14,.0492)(15,.0485)(16,.0476)(17,.0467)(18,.0468)(19,.0508)(20,.0498)(21,.0478)(22,.0425)(23,.0372)(24,.0333)};
\end{axis}
% ---------- Panel 3 ----------
\begin{axis}[gridax, at={(515.25pt,287.25pt)}, anchor=south west, width=431.25pt, height=192.75pt,
 xmin=0, xmax=210, xtick={0,30,60,90,120,150,180,209},
 xticklabels={28/12/15,25/07/16,20/02/17,18/09/17,09/04/18,05/11/18,03/06/19,30/12/19},
 title={Costa Rica - Activación de representantes pre-COVID}]
\addplot[matrix plot, shader=faceted, faceted color=black, line width=0.3pt, mesh/cols=210, point meta=explicit]
 table[x index=0, y index=0, x expr={\coordindex-210*floor((\coordindex+0.5)/210)+0.5}, y expr={floor((\coordindex+0.5)/210)+0.5}, meta=c] {\gridA};
\end{axis}
% ---------- Panel 4 ----------
\begin{axis}[gridax, at={(25.5pt,20.25pt)}, anchor=south west, width=675pt, height=192pt,
 xmin=0, xmax=210, xtick={0,23,46,69,92,115,138,161,184,209},
 xticklabels={28/12/15,06/06/16,14/11/16,01/05/17,09/10/17,19/03/18,27/08/18,11/02/19,22/07/19,30/12/19},
 title={Patrón predicho TR}]
\addplot[matrix plot, shader=faceted, faceted color=black, line width=0.3pt, mesh/cols=210, point meta=explicit]
 table[x index=0, y index=0, x expr={\coordindex-210*floor((\coordindex+0.5)/210)+0.5}, y expr={floor((\coordindex+0.5)/210)+0.5}, meta=c] {\gridTR};
\end{axis}
% ---------- Panel 5 ----------
\begin{axis}[gridax, at={(807.75pt,20.25pt)}, anchor=south west, width=138pt, height=190.5pt,
 xmin=0, xmax=42, xtick={0,21,41}, xticklabels={30/12/19,25/05/20,12/10/20},
 title={Patrón predicho TV}]
\addplot[matrix plot, shader=faceted, faceted color=black, line width=0.3pt, mesh/cols=42, point meta=explicit]
 table[x index=0, y index=0, x expr={\coordindex-42*floor((\coordindex+0.5)/42)+0.5}, y expr={floor((\coordindex+0.5)/42)+0.5}, meta=c] {\gridTV};
\end{axis}
\end{tikzpicture}
\end{document}
